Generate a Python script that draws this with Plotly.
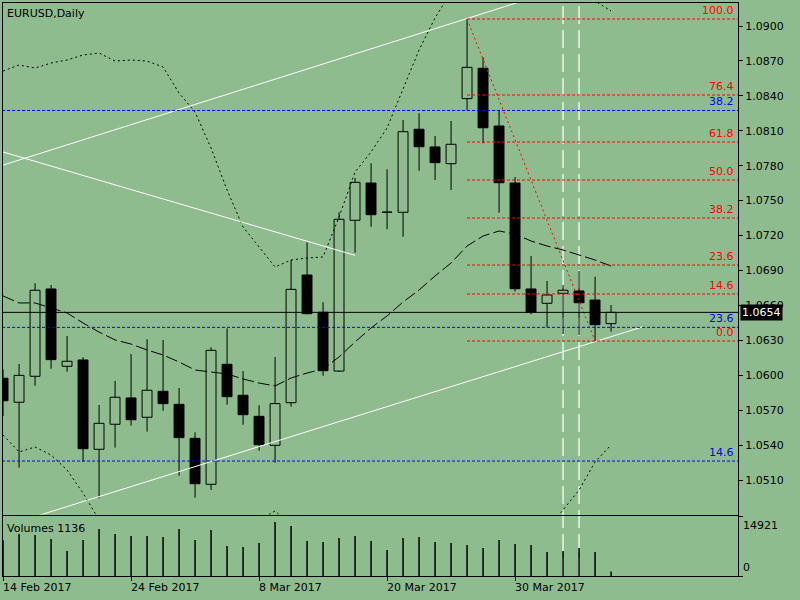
import plotly.graph_objects as go

BG = "#8FBC8F"
FONT = "DejaVu Sans"

# bar index: 0 = 15 Feb 2017 (daily bars, weekends skipped)
bars_k = list(range(-1, 38))
opens = [1.05974, 1.05768, 1.05991, 1.06741, 1.06077, 1.06131, 1.05364, 1.05579, 1.05805, 1.05639,
         1.05862, 1.05750, 1.05458, 1.05063, 1.06094, 1.05828, 1.05647, 1.05398, 1.05764, 1.06861,
         1.06541, 1.06036, 1.07331, 1.07651, 1.07400, 1.07400, 1.08113, 1.07961, 1.07817, 1.08376,
         1.08637, 1.08141, 1.07651, 1.06741, 1.06618, 1.06704, 1.06724, 1.06646, 1.06443]
highs = [1.06050, 1.06097, 1.06790, 1.06775, 1.06337, 1.06154, 1.05744, 1.05951, 1.06182, 1.06309,
         1.06303, 1.05890, 1.05510, 1.06240, 1.06403, 1.06036, 1.05742, 1.06157, 1.06990, 1.07142,
         1.06627, 1.07400, 1.07694, 1.07821, 1.07769, 1.08193, 1.08250, 1.08055, 1.08184, 1.09060,
         1.08731, 1.08270, 1.07703, 1.07024, 1.06810, 1.06775, 1.06895, 1.06846, 1.06603]
lows = [1.05650, 1.05206, 1.05910, 1.06056, 1.06030, 1.05257, 1.04943, 1.05378, 1.05567, 1.05515,
        1.05695, 1.05137, 1.04948, 1.05014, 1.05747, 1.05575, 1.05352, 1.05249, 1.05730, 1.06522,
        1.05996, 1.06028, 1.07053, 1.07276, 1.07254, 1.07190, 1.07757, 1.07677, 1.07591, 1.08278,
        1.07992, 1.07396, 1.06718, 1.06524, 1.06412, 1.06354, 1.06346, 1.06294, 1.06374]
closes = [1.05781, 1.05999, 1.06730, 1.06134, 1.06120, 1.05369, 1.05587, 1.05811, 1.05618, 1.05871,
          1.05756, 1.05464, 1.05068, 1.06214, 1.05816, 1.05661, 1.05403, 1.05756, 1.06738, 1.06529,
          1.06039, 1.07340, 1.07657, 1.07379, 1.07402, 1.08092, 1.07963, 1.07826, 1.07984, 1.08645,
          1.08126, 1.07654, 1.06743, 1.06541, 1.06689, 1.06730, 1.06623, 1.06434, 1.06540]
volumes = [9000, 10568, 10316, 9310, 6290, 9058, 11826, 10568, 10065, 10065,
           9813, 11826, 9058, 11574, 7549, 7297, 8303, 13587, 12581, 8807,
           8555, 9562, 10065, 8807, 6542, 9562, 9813, 8555, 8303, 7800,
           7045, 9058, 8052, 7800, 6039, 6290, 7045, 6039, 1136]

bb_upper = [1.08613, 1.08665, 1.08639, 1.08682, 1.08708, 1.08751, 1.08768, 1.08699, 1.08708, 1.08699,
            1.08648, 1.08424, 1.08261, 1.07952, 1.07591, 1.07273, 1.07102, 1.06930, 1.06990, 1.07007,
            1.07016, 1.07359, 1.07746, 1.07918, 1.08124, 1.08467, 1.08794, 1.09069, 1.09292, 1.09378,
            1.09438, 1.09464, 1.09464, 1.09438, 1.09395, 1.09344, 1.09283, 1.09215, 1.09129]
bb_middle = [1.06681, 1.06621, 1.06621, 1.06578, 1.06535, 1.06449, 1.06371, 1.06303, 1.06268, 1.06217,
             1.06174, 1.06114, 1.06045, 1.06028, 1.06011, 1.05968, 1.05933, 1.05908, 1.05976, 1.06019,
             1.06054, 1.06157, 1.06286, 1.06406, 1.06509, 1.06629, 1.06732, 1.06853, 1.06964, 1.07110,
             1.07196, 1.07239, 1.07213, 1.07153, 1.07110, 1.07076, 1.07033, 1.06990, 1.06938]
bb_lower = [1.05487, 1.05341, 1.05384, 1.05315, 1.05186, 1.04988, 1.04757, 1.04585, 1.04456, 1.04370,
            1.04327, 1.04327, 1.04370, 1.04456, 1.04542, 1.04671, 1.04757, 1.04834, 1.04714, 1.04671,
            1.04628, 1.04542, 1.04456, 1.04413, 1.04370, 1.04327, 1.04284, 1.04241, 1.04198, 1.04155,
            1.04155, 1.04198, 1.04327, 1.04499, 1.04671, 1.04834, 1.05014, 1.05255, 1.05401]

date_ticks = [-1, 7, 15, 23, 31]
date_labels = ["14 Feb 2017", "24 Feb 2017", "8 Mar 2017", "20 Mar 2017", "30 Mar 2017"]
price_ticks = [1.0510, 1.0540, 1.0570, 1.0600, 1.0630, 1.0660, 1.0690,
               1.0720, 1.0750, 1.0780, 1.0810, 1.0840, 1.0870, 1.0900]
bid = 1.0654
volume_max = 14921
last_volume = 1136

fib_levels = [0.0, 14.6, 23.6, 38.2, 50.0, 61.8, 76.4, 100.0]
red_fib = {"start": 28, "low": 1.06294, "high": 1.09060}
blue_fib = {"low": 1.0340, "high": 1.1616}

trend_up_x, trend_up_y = [-1, 32], [1.07805, 1.09238]
trend_down_x, trend_down_y = [-1, 21], [1.07918, 1.07030]
trend_low_x, trend_low_y = [0, 39], [1.04743, 1.06417]
red_trend_x, red_trend_y = [28, 36], [1.09060, 1.06294]
vlines = [34, 35]

X_RANGE = [-1.003, 44.934]
Y_RANGE = [1.048037, 1.091976]


def px(xpix):
    return (xpix - 3) / 735.0


fig = go.Figure()

# wicks (outside the body only)
wx, wy = [], []
for k, o, h, l, c in zip(bars_k, opens, highs, lows, closes):
    wx += [k, k, None, k, k, None]
    wy += [max(o, c), h, None, l, min(o, c), None]
fig.add_trace(go.Scatter(x=wx, y=wy, mode="lines", line=dict(color="black", width=1),
                         hoverinfo="skip", showlegend=False))

# bodies
fig.add_trace(go.Bar(
    x=bars_k,
    base=[min(o, c) for o, c in zip(opens, closes)],
    y=[max(abs(c - o), 0.00002) for o, c in zip(opens, closes)],
    width=0.62,
    marker=dict(color=["black" if c < o else BG for o, c in zip(opens, closes)],
                line=dict(color="black", width=1)),
    showlegend=False, hoverinfo="skip",
))

# bollinger bands
fig.add_trace(go.Scatter(x=bars_k, y=bb_upper, mode="lines",
                         line=dict(color="black", width=1, dash="2px,3px"), showlegend=False))
fig.add_trace(go.Scatter(x=bars_k, y=bb_lower, mode="lines",
                         line=dict(color="black", width=1, dash="2px,3px"), showlegend=False))
fig.add_trace(go.Scatter(x=bars_k, y=bb_middle, mode="lines",
                         line=dict(color="black", width=1, dash="12px,4px"), showlegend=False))

# white trend lines
for tx, ty in [(trend_up_x, trend_up_y), (trend_down_x, trend_down_y), (trend_low_x, trend_low_y)]:
    fig.add_trace(go.Scatter(x=tx, y=ty, mode="lines", line=dict(color="white", width=1),
                             showlegend=False))

# blue fib (full width)
annotations = []
for lv in fib_levels:
    p = blue_fib["low"] + (blue_fib["high"] - blue_fib["low"]) * lv / 100
    if Y_RANGE[0] < p < Y_RANGE[1]:
        fig.add_trace(go.Scatter(x=[-2, 46], y=[p, p], mode="lines",
                                 line=dict(color="#0000FF", width=1, dash="3px,2px"), showlegend=False))
        annotations.append(dict(x=px(736), xref="paper", y=p, yref="y", xanchor="right",
                                yanchor="bottom", text="%.1f" % lv, showarrow=False,
                                font=dict(color="#0000FF", size=11, family=FONT)))

# red fib
for lv in fib_levels:
    p = red_fib["low"] + (red_fib["high"] - red_fib["low"]) * lv / 100
    fig.add_trace(go.Scatter(x=[red_fib["start"], 46], y=[p, p], mode="lines",
                             line=dict(color="#FF0000", width=1, dash="3px,2px"), showlegend=False))
    annotations.append(dict(x=px(736), xref="paper", y=p, yref="y", xanchor="right",
                            yanchor="bottom", text="%.1f" % lv, showarrow=False,
                            font=dict(color="#FF0000", size=11, family=FONT)))
fig.add_trace(go.Scatter(x=red_trend_x, y=red_trend_y, mode="lines",
                         line=dict(color="#FF0000", width=1, dash="2px,3px"), showlegend=False))

# bid line
fig.add_trace(go.Scatter(x=[-2, 46], y=[bid, bid], mode="lines",
                         line=dict(color="black", width=1), showlegend=False))

# volumes
vx, vy = [], []
for k, v in zip(bars_k, volumes):
    vx += [k, k, None]
    vy += [0, v, None]
fig.add_trace(go.Scatter(x=vx, y=vy, mode="lines", line=dict(color="black", width=1.5),
                         xaxis="x2", yaxis="y2", showlegend=False, hoverinfo="skip"))

shapes = [dict(type="line", xref="x", yref="paper", x0=k, x1=k, y0=0, y1=1, layer="below",
               line=dict(color="white", width=1.2, dash="18px,6px")) for k in vlines]

annotations += [
    dict(x=px(5), xref="paper", y=1, yref="paper", xanchor="left", yanchor="top", yshift=-2,
         text="EURUSD,Daily", showarrow=False, font=dict(size=11, family=FONT, color="black")),
    dict(x=px(5), xref="paper", y=60 / 573, yref="paper", xanchor="left", yanchor="top", yshift=-4,
         text="Volumes %d" % last_volume, showarrow=False, font=dict(size=11, family=FONT, color="black")),
    dict(x=1, xref="paper", y=volume_max, yref="y2", xanchor="left", yanchor="top", xshift=3,
         text=str(volume_max), showarrow=False, font=dict(size=11, family=FONT, color="black")),
    dict(x=1, xref="paper", y=0, yref="y2", xanchor="left", yanchor="bottom", xshift=3,
         text="0", showarrow=False, font=dict(size=11, family=FONT, color="black")),
    dict(x=1, xref="paper", y=bid, yref="y", xanchor="left", yanchor="middle", xshift=2,
         text="%.4f" % bid, showarrow=False, bgcolor="black", borderpad=1,
         font=dict(size=11, family=FONT, color="white")),
]
for t, lab in zip(date_ticks, date_labels):
    annotations.append(dict(x=px(3 + (t - X_RANGE[0]) * 735 / (X_RANGE[1] - X_RANGE[0])),
                            xref="paper", y=0, yref="paper", xanchor="left", yanchor="top",
                            xshift=-2, yshift=-3, text=lab, showarrow=False,
                            font=dict(size=11, family=FONT, color="black")))

axis_common = dict(showgrid=False, zeroline=False, showline=True, mirror=True,
                   linecolor="black", linewidth=1)
fig.update_layout(
    width=800, height=600,
    margin=dict(l=3, r=62, t=3, b=24, autoexpand=False),
    paper_bgcolor=BG, plot_bgcolor=BG,
    font=dict(family=FONT, size=11, color="black"),
    showlegend=False, barmode="overlay",
    xaxis=dict(domain=[0, 1], range=X_RANGE, anchor="y", showticklabels=False, ticks="",
               **axis_common),
    yaxis=dict(domain=[61.5 / 573, 1], range=Y_RANGE, anchor="x", side="right",
               tickvals=price_ticks, ticktext=["%.4f" % v for v in price_ticks],
               ticks="outside", ticklen=4, tickcolor="black",
               tickfont=dict(size=11, family=FONT, color="black"), **axis_common),
    xaxis2=dict(domain=[0, 1], range=X_RANGE, anchor="y2", tickvals=date_ticks,
                showticklabels=False, ticks="outside", ticklen=4, tickcolor="black",
                **axis_common),
    yaxis2=dict(domain=[0, 60 / 573], range=[0, volume_max * 60 / 59.3], anchor="x2", side="right",
                tickvals=[0, volume_max], showticklabels=False, ticks="outside", ticklen=4,
                tickcolor="black", **axis_common),
    shapes=shapes,
    annotations=annotations,
)

# page body has a default 8px margin; drop it so the chart sits at the window corner
fig.write_html("out.html", config={"displayModeBar": False},
               post_script="document.body.style.margin='0';"
                           "document.body.style.background='%s';" % BG)
